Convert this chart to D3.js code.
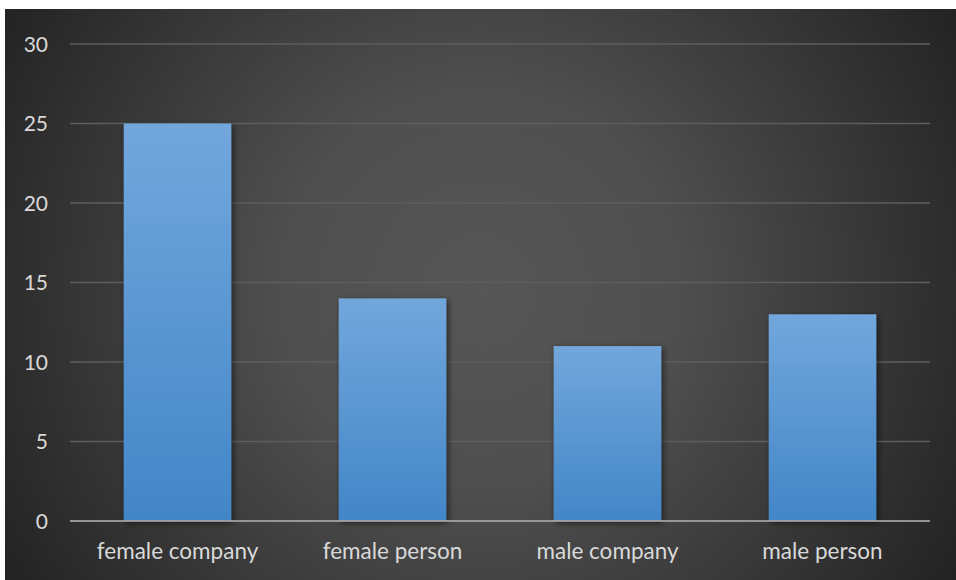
<!DOCTYPE html>
<html>
<head>
<meta charset="utf-8">
<script src="https://cdn.jsdelivr.net/npm/d3@7"></script>
<style>
  html, body { margin: 0; padding: 0; background: #ffffff; }
  svg { display: block; }
  text { font-family: Lato, "Open Sans", sans-serif; }
</style>
</head>
<body>
<svg id="chart" width="956" height="580"></svg>
<script>
// Counts per group
const categories = ["female company", "female person", "male company", "male person"];
const values = [25, 14, 11, 13];
const yTicks = [0, 5, 10, 15, 20, 25, 30];

const W = 956, H = 580;
const margin = { left: 70, right: 26, top: 44, bottom: 59 };

const svg = d3.select("#chart");
const defs = svg.append("defs");

// Radial background
const bg = defs.append("radialGradient")
  .attr("id", "bgGrad")
  .attr("gradientUnits", "userSpaceOnUse")
  .attr("cx", 480).attr("cy", 290).attr("r", 560);
bg.append("stop").attr("offset", "0").attr("stop-color", "#565656");
bg.append("stop").attr("offset", "0.35").attr("stop-color", "#4f4f4f");
bg.append("stop").attr("offset", "1").attr("stop-color", "#222222");

// Bar fill
const barGrad = defs.append("linearGradient")
  .attr("id", "barGrad").attr("x1", 0).attr("y1", 0).attr("x2", 0).attr("y2", 1);
barGrad.append("stop").attr("offset", "0").attr("stop-color", "#72a7dc");
barGrad.append("stop").attr("offset", "1").attr("stop-color", "#4286c8");

const shadow = defs.append("filter").attr("id", "barShadow")
  .attr("x", "-20%").attr("y", "-20%").attr("width", "140%").attr("height", "140%");
shadow.append("feDropShadow")
  .attr("dx", 2).attr("dy", 2).attr("stdDeviation", 3)
  .attr("flood-color", "#000").attr("flood-opacity", 0.55);

svg.append("rect")
  .attr("x", 5).attr("y", 9).attr("width", W - 5).attr("height", H - 9)
  .attr("fill", "url(#bgGrad)");

const x = d3.scaleBand()
  .domain(categories)
  .range([margin.left, W - margin.right])
  .paddingInner(0.5).paddingOuter(0.25);

const y = d3.scaleLinear()
  .domain([0, 30])
  .range([H - margin.bottom, margin.top]);

// Gridlines
svg.append("g")
  .selectAll("line")
  .data(yTicks.filter(d => d > 0))
  .join("line")
  .attr("x1", margin.left).attr("x2", W - margin.right)
  .attr("y1", d => y(d)).attr("y2", d => y(d))
  .attr("stroke", "#5e5e5e").attr("stroke-width", 1.3);

// Y axis labels
const yAxis = d3.axisLeft(y).tickValues(yTicks).tickSize(0).tickPadding(0);
const gy = svg.append("g").attr("transform", "translate(48,0)").call(yAxis);
gy.select(".domain").remove();
gy.selectAll("text")
  .attr("fill", "#d9d9d9")
  .style("font-size", "21px")
  .attr("dy", "0.35em");

// Bars
svg.append("g")
  .selectAll("rect")
  .data(values)
  .join("rect")
  .attr("x", (d, i) => x(categories[i]))
  .attr("y", d => y(d))
  .attr("width", x.bandwidth())
  .attr("height", d => y(0) - y(d))
  .attr("fill", "url(#barGrad)")
  .attr("filter", "url(#barShadow)");

// Baseline
svg.append("line")
  .attr("x1", margin.left).attr("x2", W - margin.right)
  .attr("y1", y(0)).attr("y2", y(0))
  .attr("stroke", "#a6a6a6").attr("stroke-width", 2)
  .attr("stroke-opacity", 0.85);

// X axis labels
const xAxis = d3.axisBottom(x).tickSize(0).tickPadding(0);
const gx = svg.append("g").attr("transform", `translate(0,${y(0)})`).call(xAxis);
gx.select(".domain").remove();
gx.selectAll("text")
  .attr("fill", "#d9d9d9")
  .style("font-size", "22.5px")
  .attr("y", 38)
  .attr("dy", 0);
</script>
</body>
</html>
